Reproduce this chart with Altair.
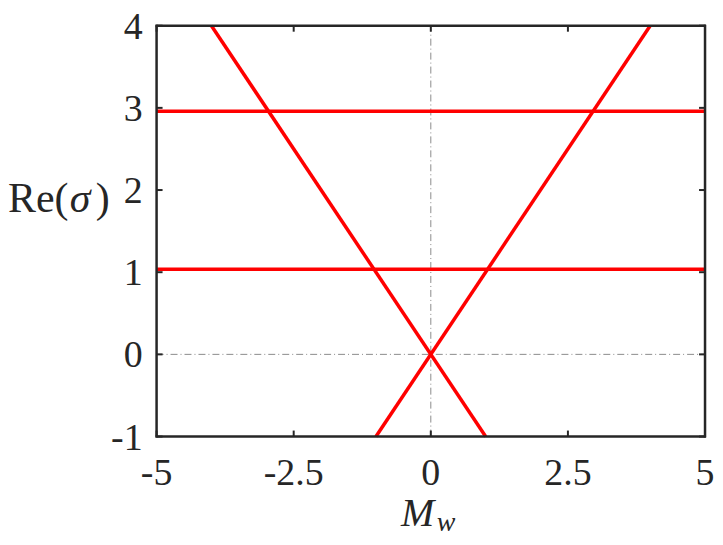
import altair as alt
import pandas as pd

# ---- data ----
x_ticks = [-5, -2.5, 0, 2.5, 5]
y_ticks = [-1, 0, 1, 2, 3, 4]

# rising branch  Re(sigma) = Mw
rise_x = [-1, 4]
rise_y = [-1, 4]
# falling branch Re(sigma) = -Mw
fall_x = [-4, 1]
fall_y = [4, -1]
# flat branches
flat_hi_x = [-5, 5]
flat_hi_y = [2.96, 2.96]
flat_lo_x = [-5, 5]
flat_lo_y = [1.035, 1.035]

W, H = 550, 412
RED = "#ff0000"
AX = "#262626"
FONT = "Liberation Serif"

lines = pd.DataFrame({
    "x": rise_x + fall_x + flat_hi_x + flat_lo_x,
    "y": rise_y + fall_y + flat_hi_y + flat_lo_y,
    "s": ["rise"] * 2 + ["fall"] * 2 + ["hi"] * 2 + ["lo"] * 2,
})

xs = alt.Scale(domain=[-5, 5], nice=False, zero=False)
ys = alt.Scale(domain=[-1, 4], nice=False, zero=False)

one = pd.DataFrame({"a": [0]})
xt = pd.DataFrame({"v": x_ticks, "lab": [str(v) for v in x_ticks]})
yt = pd.DataFrame({"v": y_ticks, "lab": [str(v) for v in y_ticks]})

base = alt.Chart(pd.DataFrame({"x": [0], "y": [0]})).mark_point(opacity=0).encode(
    x=alt.X("x:Q", scale=xs, axis=None),
    y=alt.Y("y:Q", scale=ys, axis=None),
)

zx = alt.Chart(pd.DataFrame({"x": [0, 0], "y": [-1, 4]})).mark_line(
    color="#8c8c8c", strokeWidth=1, strokeDash=[7, 3, 1, 3]).encode(
    x=alt.X("x:Q", scale=xs), y=alt.Y("y:Q", scale=ys))
zy = alt.Chart(pd.DataFrame({"x": [-5, 5], "y": [0, 0]})).mark_line(
    color="#8c8c8c", strokeWidth=1, strokeDash=[7, 3, 1, 3]).encode(
    x=alt.X("x:Q", scale=xs), y=alt.Y("y:Q", scale=ys))

red = alt.Chart(lines).mark_line(color=RED, strokeWidth=3.5).encode(
    x=alt.X("x:Q", scale=xs), y=alt.Y("y:Q", scale=ys), detail="s:N")

tl = 6
tick_b = alt.Chart(xt).mark_rule(color=AX, strokeWidth=2).encode(
    x=alt.X("v:Q", scale=xs), y=alt.value(H), y2=alt.value(H - tl))
tick_t = alt.Chart(xt).mark_rule(color=AX, strokeWidth=2).encode(
    x=alt.X("v:Q", scale=xs), y=alt.value(0), y2=alt.value(tl))
tick_l = alt.Chart(yt).mark_rule(color=AX, strokeWidth=2).encode(
    y=alt.Y("v:Q", scale=ys), x=alt.value(0), x2=alt.value(tl))
tick_r = alt.Chart(yt).mark_rule(color=AX, strokeWidth=2).encode(
    y=alt.Y("v:Q", scale=ys), x=alt.value(W), x2=alt.value(W - tl))

lab_x = alt.Chart(xt).mark_text(font=FONT, fontSize=38, align="center", color=AX).encode(
    x=alt.X("v:Q", scale=xs), y=alt.value(H + 38), text="lab:N")
lab_y = alt.Chart(yt).mark_text(font=FONT, fontSize=38, align="right", dy=2, color=AX).encode(
    y=alt.Y("v:Q", scale=ys), x=alt.value(-14), text="lab:N")

fr_t = alt.Chart(one).mark_rule(color=AX, strokeWidth=2.5).encode(
    x=alt.value(-1), x2=alt.value(W + 1), y=alt.value(0))
fr_b = alt.Chart(one).mark_rule(color=AX, strokeWidth=2.5).encode(
    x=alt.value(-1), x2=alt.value(W + 1), y=alt.value(H))
fr_l = alt.Chart(one).mark_rule(color=AX, strokeWidth=2.5).encode(
    y=alt.value(-1), y2=alt.value(H + 1), x=alt.value(0))
fr_r = alt.Chart(one).mark_rule(color=AX, strokeWidth=2.5).encode(
    y=alt.value(-1), y2=alt.value(H + 1), x=alt.value(W))

t_M = alt.Chart(one).mark_text(text="M", font=FONT, fontSize=40, fontStyle="italic",
                               align="left", baseline="alphabetic", color=AX).encode(
    x=alt.value(245), y=alt.value(H + 90))
t_w = alt.Chart(one).mark_text(text="w", font=FONT, fontSize=28, fontStyle="italic",
                               align="left", baseline="alphabetic", color=AX).encode(
    x=alt.value(281), y=alt.value(H + 95))
t_re = alt.Chart(one).mark_text(text="Re(", font=FONT, fontSize=42,
                                align="left", baseline="alphabetic", color=AX).encode(
    x=alt.value(-149), y=alt.value(187))
t_sig = alt.Chart(one).mark_text(text="σ", font=FONT, fontSize=42, fontStyle="italic",
                                 align="left", baseline="alphabetic", color=AX).encode(
    x=alt.value(-87), y=alt.value(187))
t_rp = alt.Chart(one).mark_text(text=")", font=FONT, fontSize=42,
                                align="left", baseline="alphabetic", color=AX).encode(
    x=alt.value(-61), y=alt.value(187))

chart = alt.layer(base, zx, zy, red, tick_b, tick_t, tick_l, tick_r,
                  fr_t, fr_b, fr_l, fr_r, lab_x, lab_y,
                  t_M, t_w, t_re, t_sig, t_rp).properties(
    width=W, height=H, padding=0,
).configure_view(stroke=None)

chart.save("out.html", embed_options={"renderer": "svg", "actions": False})
